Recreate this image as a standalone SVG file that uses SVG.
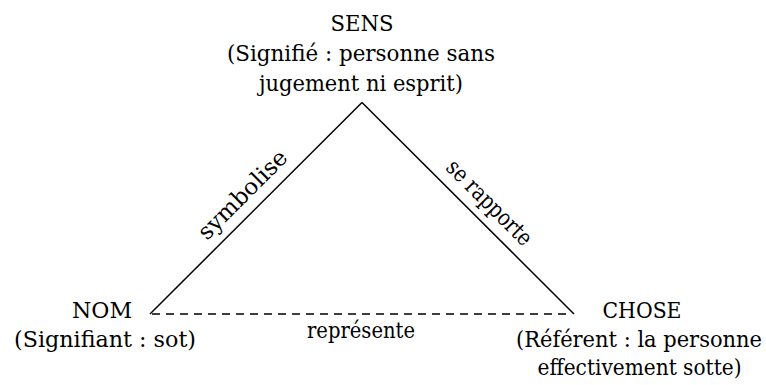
<svg xmlns="http://www.w3.org/2000/svg" width="766" height="385" viewBox="0 0 766 385">
  <style>
    text { font-family: "DejaVu Serif Condensed", "DejaVu Serif", "Liberation Serif", serif; font-size: 23px; fill: #000; text-anchor: middle; }
    .edge { stroke: #000; stroke-width: 1.5; fill: none; }
    .dash { stroke-dasharray: 8 6; }
  </style>
  <rect width="766" height="385" fill="#fff"/>
  <g id="connectors">
    <line class="edge" x1="362" y1="102.5" x2="150" y2="314"/>
    <line class="edge" x1="362" y1="102.5" x2="574" y2="314"/>
    <line class="edge dash" x1="152" y1="314" x2="572" y2="314"/>
    <text transform="translate(248,200) rotate(-45)" textLength="116" lengthAdjust="spacingAndGlyphs">symbolise</text>
    <text transform="translate(484,208) rotate(45)" textLength="111" lengthAdjust="spacingAndGlyphs">se rapporte</text>
    <text x="361" y="338" textLength="108" lengthAdjust="spacingAndGlyphs">représente</text>
  </g>
  <g id="node-sens">
    <text x="362" y="31" textLength="63" lengthAdjust="spacingAndGlyphs">SENS</text>
    <text x="361" y="61" textLength="268" lengthAdjust="spacingAndGlyphs">(Signifié : personne sans</text>
    <text x="361" y="91" textLength="204" lengthAdjust="spacingAndGlyphs">jugement ni esprit)</text>
  </g>
  <g id="node-nom">
    <text x="102" y="318" textLength="60" lengthAdjust="spacingAndGlyphs">NOM</text>
    <text x="105" y="347" textLength="182" lengthAdjust="spacingAndGlyphs">(Signifiant : sot)</text>
  </g>
  <g id="node-chose">
    <text x="642" y="318" textLength="79" lengthAdjust="spacingAndGlyphs">CHOSE</text>
    <text x="639" y="347" textLength="246" lengthAdjust="spacingAndGlyphs">(Référent : la personne</text>
    <text x="639.5" y="375" textLength="204" lengthAdjust="spacingAndGlyphs">effectivement sotte)</text>
  </g>
</svg>
